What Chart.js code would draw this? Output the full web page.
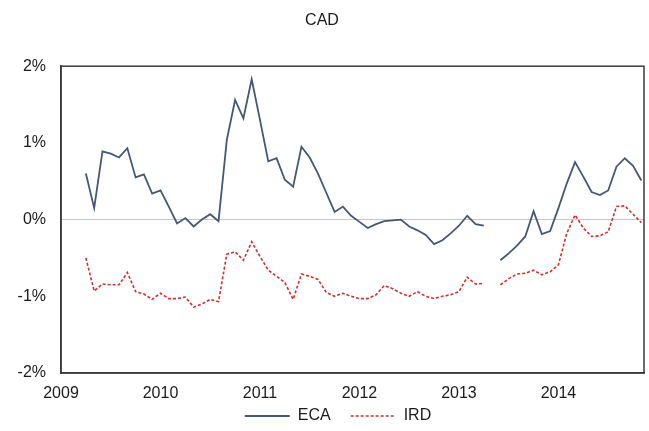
<!DOCTYPE html>
<html>
<head>
<meta charset="utf-8">
<script src="https://cdn.jsdelivr.net/npm/chart.js@4/dist/chart.umd.min.js"></script>
<style>
  html, body { margin: 0; padding: 0; background: #fff; }
  #wrap { width: 649px; height: 431px; }
</style>
</head>
<body>
<div id="wrap"><canvas id="graficoCad" width="649" height="431"></canvas></div>
<script>
// monthly observations, Apr 2009 .. Nov 2014
const months = [
  "2009-04","2009-05","2009-06","2009-07","2009-08","2009-09","2009-10","2009-11","2009-12",
  "2010-01","2010-02","2010-03","2010-04","2010-05","2010-06","2010-07","2010-08","2010-09","2010-10","2010-11","2010-12",
  "2011-01","2011-02","2011-03","2011-04","2011-05","2011-06","2011-07","2011-08","2011-09","2011-10","2011-11","2011-12",
  "2012-01","2012-02","2012-03","2012-04","2012-05","2012-06","2012-07","2012-08","2012-09","2012-10","2012-11","2012-12",
  "2013-01","2013-02","2013-03","2013-04","2013-05","2013-06","2013-07","2013-08","2013-09","2013-10","2013-11","2013-12",
  "2014-01","2014-02","2014-03","2014-04","2014-05","2014-06","2014-07","2014-08","2014-09","2014-10","2014-11"
];

// values in %
const eca = [
  0.60, 0.15, 0.89, 0.86, 0.81, 0.93, 0.55, 0.59, 0.34,
  0.38, 0.17, -0.05, 0.02, -0.09, 0.00, 0.07, -0.02, 1.04, 1.56, 1.32, 1.83,
  1.30, 0.76, 0.80, 0.52, 0.43, 0.95, 0.81, 0.60, 0.35, 0.10, 0.17, 0.05,
  -0.03, -0.11, -0.06, -0.02, -0.01, 0.00, -0.09, -0.14, -0.20, -0.32, -0.27, -0.18,
  -0.08, 0.05, -0.06, -0.08, null, -0.53, -0.44, -0.34, -0.22, 0.11, -0.19, -0.15,
  0.15, 0.47, 0.75, 0.56, 0.36, 0.32, 0.38, 0.69, 0.80, 0.70, 0.51
];

const ird = [
  -0.50, -0.93, -0.84, -0.85, -0.85, -0.69, -0.94, -0.97, -1.04,
  -0.96, -1.03, -1.03, -1.01, -1.14, -1.10, -1.04, -1.07, -0.45, -0.42, -0.53, -0.29,
  -0.48, -0.66, -0.74, -0.82, -1.04, -0.71, -0.74, -0.78, -0.95, -1.00, -0.96, -1.00,
  -1.03, -1.03, -0.98, -0.86, -0.90, -0.96, -1.00, -0.94, -1.00, -1.03, -1.00, -0.98,
  -0.94, -0.75, -0.84, -0.83, null, -0.85, -0.77, -0.71, -0.70, -0.66, -0.72, -0.68,
  -0.59, -0.18, 0.06, -0.11, -0.22, -0.21, -0.16, 0.17, 0.18, 0.07, -0.04
];

const yearTicks = [2009, 2010, 2011, 2012, 2013, 2014];

function mesParaAno(m) {
  const [a, mm] = m.split("-").map(Number);
  return a + (mm - 1) / 12;
}

function pontos(valores) {
  return months.map((m, i) => ({ x: mesParaAno(m), y: valores[i] }));
}

const FONTE = "'Liberation Sans', Arial, sans-serif";
const TEXTO = "#1a1a1a";

// box around the plot area + place the legend like the original
const moldura = {
  id: "moldura",
  beforeLayout(chart) {
    const lg = chart.legend;
    if (lg && !lg._fitOriginal) {
      lg._fitOriginal = lg.fit;
      lg.fit = function () {
        this._fitOriginal();
        this.height = 27;
      };
    }
  },
  afterLayout(chart) {
    const lg = chart.legend;
    if (lg) {
      lg.left += 16; lg.right += 16;
      lg.top -= 16;
    }
  },
  afterDatasetsDraw(chart) {
    const a = chart.chartArea;
    const ctx = chart.ctx;
    ctx.save();
    ctx.strokeStyle = "#3a3a3a";
    ctx.lineWidth = 1.5;
    ctx.strokeRect(a.left, a.top, a.right - a.left, a.bottom - a.top);
    ctx.restore();
  }
};

const ctx = document.getElementById("graficoCad");

new Chart(ctx, {
  type: "line",
  data: {
    datasets: [
      {
        label: "ECA",
        data: pontos(eca),
        borderColor: "#44577a",
        borderWidth: 1.8,
        pointRadius: 0,
        tension: 0,
        spanGaps: false
      },
      {
        label: "IRD",
        data: pontos(ird),
        borderColor: "#d0312d",
        borderWidth: 1.6,
        borderDash: [3, 2],
        pointRadius: 0,
        tension: 0,
        spanGaps: false
      }
    ]
  },
  options: {
    responsive: false,
    animation: false,
    devicePixelRatio: 1,
    layout: { padding: { left: 0, right: 5, top: 0, bottom: 0 } },
    plugins: {
      title: {
        display: true,
        text: "CAD",
        color: TEXTO,
        font: { family: FONTE, size: 16, weight: "normal" },
        padding: { top: 11, bottom: 36 }
      },
      legend: {
        display: true,
        position: "bottom",
        labels: {
          usePointStyle: true,
          pointStyle: "line",
          pointStyleWidth: 45,
          boxHeight: 16,
          padding: 20,
          color: TEXTO,
          font: { family: FONTE, size: 16 },
          generateLabels(chart) {
            return chart.data.datasets.map((ds, i) => ({
              text: ds.label,
              datasetIndex: i,
              hidden: false,
              pointStyle: "line",
              strokeStyle: ds.borderColor,
              fillStyle: ds.borderColor,
              lineWidth: ds.borderWidth,
              lineDash: ds.borderDash || [],
              fontColor: TEXTO
            }));
          }
        }
      },
      tooltip: { enabled: false }
    },
    scales: {
      x: {
        type: "linear",
        min: 2009,
        max: 2014.86,
        afterBuildTicks(scale) {
          scale.ticks = yearTicks.map(v => ({ value: v }));
        },
        afterFit(scale) { scale.height = 31; },
        ticks: {
          autoSkip: false,
          maxRotation: 0,
          padding: 11,
          color: TEXTO,
          font: { family: FONTE, size: 16 },
          callback: v => String(v)
        },
        grid: { display: false, drawTicks: false },
        border: { display: true, color: "#3a3a3a", width: 1.5 }
      },
      y: {
        min: -2,
        max: 2,
        afterFit(scale) { scale.width = 61; },
        ticks: {
          stepSize: 1,
          padding: 15,
          color: TEXTO,
          font: { family: FONTE, size: 16 },
          callback: v => v + "%"
        },
        grid: {
          drawTicks: false,
          color: c => (c.tick && c.tick.value === 0 ? "#c8c8c8" : "rgba(0,0,0,0)"),
          lineWidth: 1
        },
        border: { display: true, color: "#3a3a3a", width: 1.5 }
      }
    }
  },
  plugins: [moldura]
});
</script>
</body>
</html>
